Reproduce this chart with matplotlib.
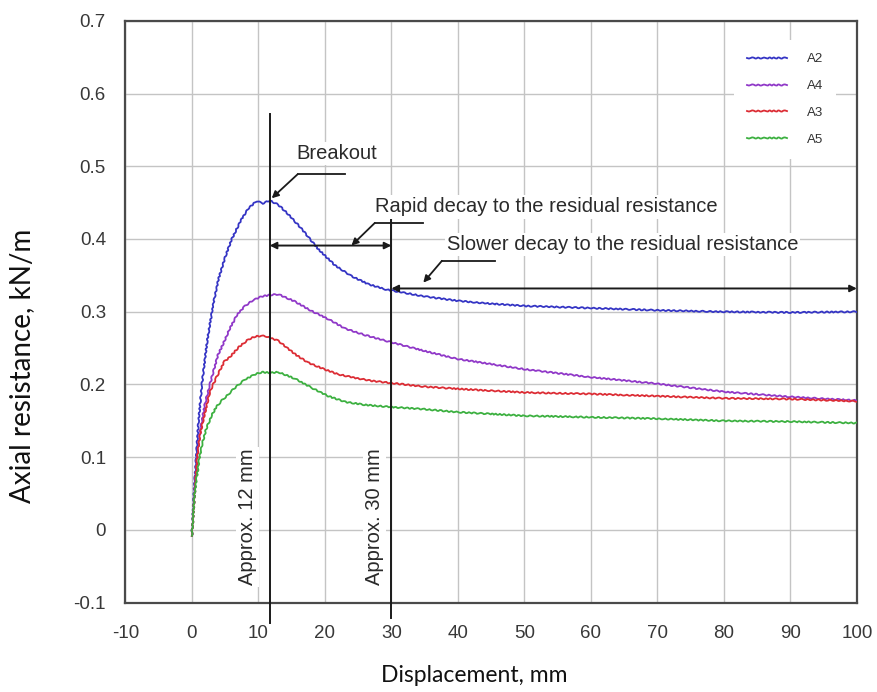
import matplotlib
matplotlib.use("Agg")
import matplotlib.pyplot as plt

# 読み取ったデータ (変位 mm, 軸方向抵抗 kN/m)
x_a2 = [0, 0.3, 0.65, 1.0, 1.5, 2.3, 3.2, 4.0, 5.0, 6.0, 7.5, 8.5, 9.7, 10.7, 11.7,
        13.0, 14.5, 16.5, 19.0, 21.5, 24.0, 26.5, 29.0, 32, 35, 40, 45, 50, 60, 70, 80, 90, 100]
y_a2 = [-0.008, 0.05, 0.10, 0.15, 0.20, 0.26, 0.31, 0.345, 0.375, 0.40, 0.428, 0.442, 0.452,
        0.449, 0.453, 0.447, 0.434, 0.414, 0.386, 0.364, 0.349, 0.338, 0.331, 0.326, 0.321,
        0.315, 0.311, 0.308, 0.305, 0.302, 0.300, 0.299, 0.300]

x_a4 = [0, 0.4, 0.8, 1.3, 2.0, 2.7, 3.9, 5.0, 5.6, 6.8, 8.0, 9.2, 10.5, 11.7, 13.0, 15.5,
        18.0, 20.5, 23.0, 26.0, 30.0, 35, 40, 50, 60, 70, 80, 90, 100]
y_a4 = [-0.008, 0.05, 0.10, 0.14, 0.175, 0.20, 0.24, 0.262, 0.275, 0.296, 0.308, 0.316,
        0.321, 0.323, 0.324, 0.314, 0.301, 0.290, 0.277, 0.268, 0.258, 0.246, 0.235, 0.221,
        0.210, 0.201, 0.190, 0.183, 0.178]

x_a3 = [0, 0.4, 0.8, 1.2, 1.65, 2.7, 3.7, 4.9, 5.65, 7.0, 8.5, 9.6, 10.4, 11.2, 13.0, 15.6,
        17.5, 19.6, 22.0, 24.6, 27.0, 30, 35, 40, 50, 60, 70, 80, 90, 100]
y_a3 = [-0.008, 0.05, 0.10, 0.13, 0.149, 0.19, 0.21, 0.232, 0.237, 0.251, 0.262, 0.266,
        0.267, 0.266, 0.260, 0.241, 0.230, 0.222, 0.214, 0.209, 0.205, 0.202, 0.197, 0.194,
        0.189, 0.187, 0.184, 0.181, 0.180, 0.177]

x_a5 = [0, 0.4, 1.15, 1.6, 2.15, 3.0, 3.65, 4.5, 5.65, 6.4, 8.0, 9.5, 10.6, 11.8, 13.0, 15.5,
        18.1, 20.5, 23.1, 26.0, 30, 35, 40, 50, 60, 70, 80, 90, 100]
y_a5 = [-0.008, 0.05, 0.10, 0.12, 0.139, 0.158, 0.169, 0.178, 0.188, 0.195, 0.207, 0.214,
        0.217, 0.216, 0.217, 0.208, 0.195, 0.184, 0.176, 0.172, 0.169, 0.166, 0.162, 0.157,
        0.155, 0.153, 0.150, 0.149, 0.147]

series = [("A2", x_a2, y_a2, "#3434c4"),
          ("A4", x_a4, y_a4, "#9038c8"),
          ("A3", x_a3, y_a3, "#dc2c34"),
          ("A5", x_a5, y_a5, "#3cb040")]

x_ticks = list(range(-10, 101, 10))
y_ticks = [-0.1, 0, 0.1, 0.2, 0.3, 0.4, 0.5, 0.6, 0.7]
y_ticklabels = ["-0.1", "0", "0.1", "0.2", "0.3", "0.4", "0.5", "0.6", "0.7"]

plt.rcParams["font.family"] = ["Liberation Sans", "DejaVu Sans"]
plt.rcParams["axes.unicode_minus"] = False

fig = plt.figure(figsize=(8.77, 6.92), dpi=100)
ax = fig.add_axes([0.143, 0.129, 0.834, 0.841])

for name, xs, ys, c in series:
    ln, = ax.plot(xs, ys, color=c, lw=1.3, label=name, zorder=3)
    ln.set_sketch_params(scale=0.6, length=6, randomness=2)

ax.set_xlim(-10, 100)
ax.set_ylim(-0.1, 0.7)
ax.set_xticks(x_ticks)
ax.set_yticks(y_ticks)
ax.set_yticklabels(y_ticklabels)
ax.tick_params(length=0, labelsize=13.5, colors="#383838")
ax.tick_params(axis="x", pad=16)
ax.tick_params(axis="y", pad=14)
ax.grid(True, color="#c4c4c4", lw=1.0)
ax.set_axisbelow(True)
for sp in ax.spines.values():
    sp.set_color("#4a4a4a")
    sp.set_linewidth(1.6)

# 縦線 (12 mm, 30 mm)
ax.plot([11.7, 11.7], [-0.128, 0.572], color="#1a1a1a", lw=1.4, clip_on=False, zorder=4)
ax.plot([30.0, 30.0], [-0.121, 0.428], color="#1a1a1a", lw=1.4, clip_on=False, zorder=4)

tkw = dict(fontsize=14.5, color="#2a2a2a", zorder=5)
wbox = dict(facecolor="white", edgecolor="none", pad=1.5)
ax.text(8.4, 0.018, "Approx. 12 mm", rotation=90, ha="center", va="center", bbox=wbox, **tkw)
ax.text(27.4, 0.018, "Approx. 30 mm", rotation=90, ha="center", va="center", bbox=wbox, **tkw)

ax.text(15.7, 0.517, "Breakout", ha="left", va="center", bbox=wbox, **tkw)
ax.text(27.6, 0.444, "Rapid decay to the residual resistance", ha="left", va="center",
        bbox=wbox, **tkw)
ax.text(38.3, 0.393, "Slower decay to the residual resistance", ha="left", va="center",
        bbox=wbox, **tkw)

lk = dict(color="#1a1a1a", lw=1.3, zorder=4)
head = dict(arrowstyle="-|>", color="#1a1a1a", lw=1.3, mutation_scale=10,
            shrinkA=0, shrinkB=0)
both = dict(arrowstyle="<|-|>", color="#1a1a1a", lw=1.4, mutation_scale=10,
            shrinkA=0, shrinkB=0)

# Breakout の引出線
ax.plot([23.0, 15.9], [0.489, 0.489], **lk)
ax.annotate("", xy=(12.0, 0.456), xytext=(15.9, 0.489), arrowprops=head, zorder=4)

# 急速減衰
ax.annotate("", xy=(30.0, 0.391), xytext=(11.7, 0.391), arrowprops=both, zorder=4)
ax.plot([34.7, 27.5], [0.422, 0.422], **lk)
ax.annotate("", xy=(24.0, 0.391), xytext=(27.5, 0.422), arrowprops=head, zorder=4)

# 緩やかな減衰
ax.annotate("", xy=(100.0, 0.332), xytext=(30.0, 0.332), arrowprops=both,
            annotation_clip=False, zorder=4)
ax.plot([45.6, 37.6], [0.370, 0.370], **lk)
ax.annotate("", xy=(34.8, 0.340), xytext=(37.6, 0.370), arrowprops=head, zorder=4)

leg = ax.legend(loc="upper left", bbox_to_anchor=(734 / 877, 1 - 40 / 692),
                bbox_transform=fig.transFigure, fontsize=9.5, frameon=True,
                handlelength=3.0, handletextpad=1.5, labelspacing=1.1,
                borderpad=1.0, borderaxespad=0)
leg.get_frame().set_edgecolor("none")
leg.get_frame().set_facecolor("white")
leg.get_frame().set_alpha(1)
for t in leg.get_texts():
    t.set_color("#333333")

fig.text(22 / 877, 1 - 366 / 692, "Axial resistance, kN/m", rotation=90,
         ha="center", va="center", fontsize=20, color="#111111",
         family=["Lato", "DejaVu Sans"])
fig.text(474 / 877, 1 - 675 / 692, "Displacement, mm", ha="center", va="center",
         fontsize=16.5, color="#111111", family=["Lato", "DejaVu Sans"])

fig.savefig("out.png", dpi=100)
